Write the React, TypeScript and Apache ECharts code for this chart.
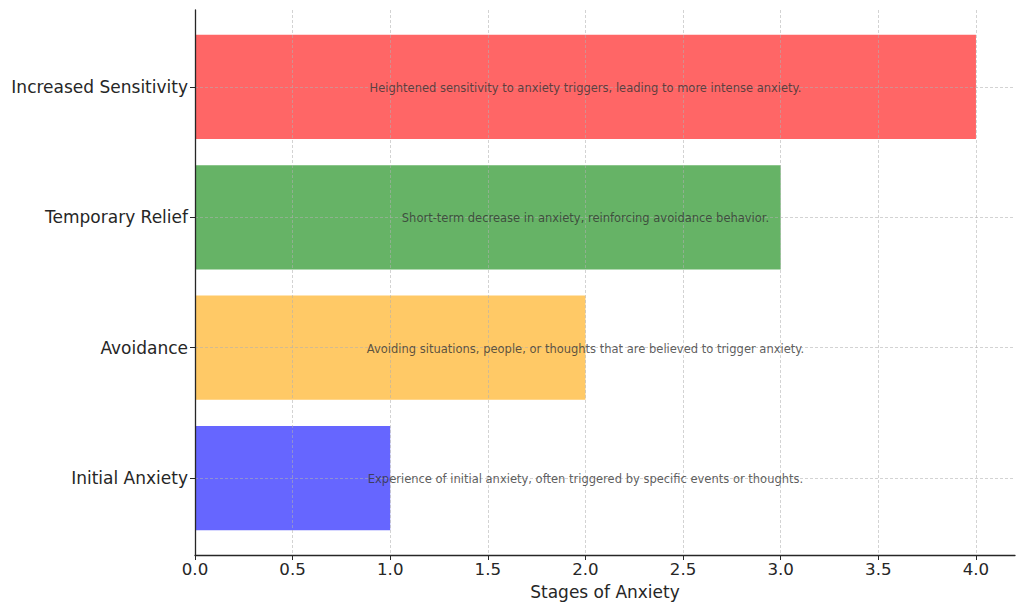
import React, { useEffect, useRef } from "react";
import * as echarts from "echarts";

const categories = ["Initial Anxiety", "Avoidance", "Temporary Relief", "Increased Sensitivity"];
const values = [1, 2, 3, 4];
const colors = ["#6666FF", "#FFC966", "#66B366", "#FF6666"];
const descriptions = [
  "Experience of initial anxiety, often triggered by specific events or thoughts.",
  "Avoiding situations, people, or thoughts that are believed to trigger anxiety.",
  "Short-term decrease in anxiety, reinforcing avoidance behavior.",
  "Heightened sensitivity to anxiety triggers, leading to more intense anxiety.",
];
const labelX = 2;
const xTicks = [0, 0.5, 1, 1.5, 2, 2.5, 3, 3.5, 4];

const FONT = "DejaVu Sans";
const gridColor = "rgba(176,176,176,0.7)";
const TEXT = "#262626";

export default function App() {
  const ref = useRef<HTMLDivElement>(null);
  useEffect(() => {
    if (!ref.current) return;
    const chart = echarts.init(ref.current, null, { renderer: "svg" });
    const top = 10;
    const bottom = 56;
    const h = 611 - top - bottom;
    const unit = h / 4.18;
    const inset = 0.09 * unit;
    chart.setOption({
      animation: false,
      backgroundColor: "#ffffff",
      grid: [
        { left: 195, right: 9, top: top, bottom: bottom },
        { left: 195, right: 9, top: top + inset, bottom: bottom + inset },
      ],
      xAxis: [
        {
          gridIndex: 0,
          type: "value",
          min: 0,
          max: 4.2,
          interval: 0.5,
          z: 3,
          name: "Stages of Anxiety",
          nameLocation: "middle",
          nameGap: 28,
          nameTextStyle: { fontFamily: FONT, fontSize: 17, color: TEXT },
          axisLine: { show: true, onZero: false, lineStyle: { color: TEXT, width: 1.3 } },
          axisTick: { show: true, length: 5, customValues: xTicks, lineStyle: { color: TEXT } },
          axisLabel: {
            fontFamily: FONT,
            fontSize: 16.67,
            color: TEXT,
            margin: 6,
            customValues: xTicks,
            formatter: (v: number) => v.toFixed(1),
          },
          splitLine: { show: true, lineStyle: { color: gridColor, type: [3, 2], width: 0.8 } },
        },
        {
          gridIndex: 1,
          type: "value",
          min: 0,
          max: 4.2,
          show: false,
        },
      ],
      yAxis: [
        {
          gridIndex: 0,
          type: "value",
          min: -0.59,
          max: 3.59,
          z: 6,
          axisLine: { show: true, onZero: false, lineStyle: { color: TEXT, width: 1.3 } },
          axisTick: { show: false },
          axisLabel: { show: false },
          splitLine: { show: false },
        },
        {
          gridIndex: 1,
          type: "category",
          data: categories,
          axisLine: { show: false },
          axisTick: { show: true, alignWithLabel: true, length: 5, lineStyle: { color: TEXT } },
          axisLabel: { fontFamily: FONT, fontSize: 17, color: TEXT, margin: 7 },
          splitLine: { show: false },
        },
      ],
      series: [
        {
          type: "bar",
          xAxisIndex: 1,
          yAxisIndex: 1,
          barWidth: "80%",
          data: values.map((v, i) => ({ value: v, itemStyle: { color: colors[i] } })),
          z: 2,
        },
        {
          type: "scatter",
          xAxisIndex: 1,
          yAxisIndex: 1,
          z: 5,
          symbolSize: 1,
          itemStyle: { color: "rgba(0,0,0,0)" },
          data: categories.map((c, i) => ({ value: [labelX, c], name: descriptions[i] })),
          label: {
            show: true,
            position: "inside",
            formatter: (p: any) => p.name,
            fontFamily: FONT,
            fontSize: 11.5,
            color: "#333",
            offset: [0, 1],
          },
          markLine: {
            silent: true,
            symbol: "none",
            label: { show: false },
            lineStyle: { color: gridColor, type: [3, 2], width: 0.8 },
            data: categories.map((c) => ({ yAxis: c })),
          },
        },
      ],
    });
    return () => chart.dispose();
  }, []);
  return (
    <div
      ref={ref}
      style={{ position: "absolute", left: 0, top: 0, width: 1024, height: 611 }}
    />
  );
}
